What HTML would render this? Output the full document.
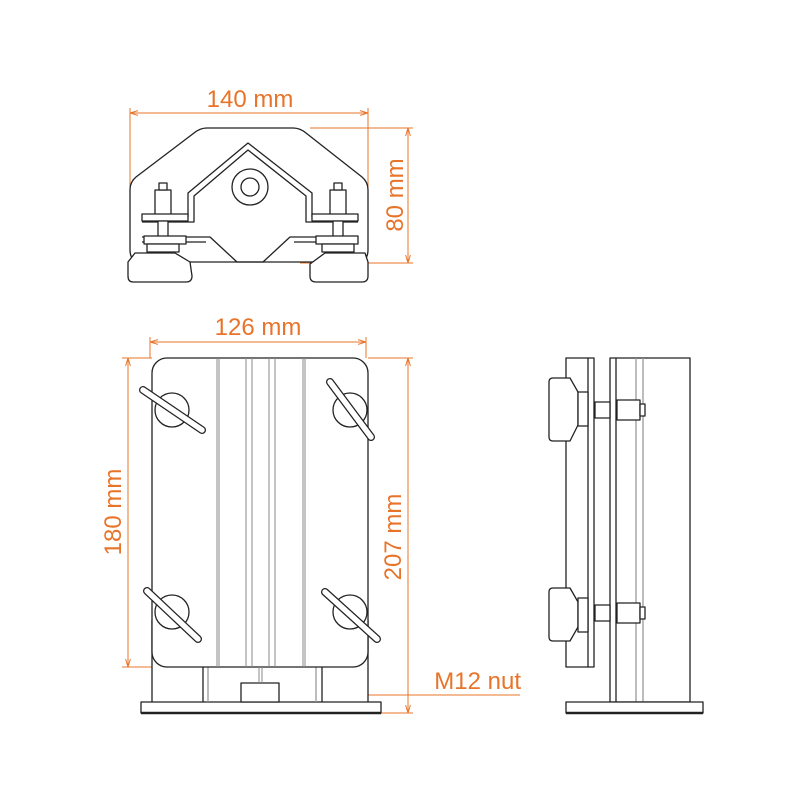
<!DOCTYPE html>
<html><head><meta charset="utf-8"><style>
html,body{margin:0;padding:0;background:#fff}
svg{display:block}
text{font-family:"Liberation Sans",sans-serif;fill:#e8742a;font-size:24px}
</style></head><body>
<svg width="800" height="800" viewBox="0 0 800 800" xmlns="http://www.w3.org/2000/svg">
<defs>
<marker id="a" viewBox="0 0 10 10" refX="10" refY="5" markerWidth="8" markerHeight="8" orient="auto-start-reverse"><path d="M0,2 L10,5 L0,8" fill="none" stroke="#e8742a" stroke-width="1.2"/></marker>
</defs>
<g stroke="#e8742a" stroke-width="1" fill="none">
<line x1="130" y1="113" x2="368" y2="113" marker-start="url(#a)" marker-end="url(#a)"/>
<line x1="130" y1="108" x2="130" y2="250"/><line x1="368" y1="108" x2="368" y2="215"/>
<line x1="408" y1="128" x2="408" y2="263" marker-start="url(#a)" marker-end="url(#a)"/>
<line x1="310" y1="128" x2="413" y2="128"/><line x1="300" y1="263" x2="413" y2="263"/>
<line x1="150" y1="342" x2="366" y2="342" marker-start="url(#a)" marker-end="url(#a)"/>
<line x1="150" y1="337" x2="150" y2="358"/><line x1="366" y1="337" x2="366" y2="358"/>
<line x1="128" y1="358" x2="128" y2="667" marker-start="url(#a)" marker-end="url(#a)"/>
<line x1="122" y1="358" x2="152" y2="358"/><line x1="122" y1="667" x2="152" y2="667"/>
<line x1="408" y1="358" x2="408" y2="713" marker-start="url(#a)" marker-end="url(#a)"/>
<line x1="368" y1="358" x2="413" y2="358"/><line x1="381" y1="713" x2="413" y2="713"/>
<line x1="264" y1="695" x2="520" y2="695"/>
</g>
<circle cx="264" cy="695" r="1.8" fill="#e8742a"/>
<text x="250" y="107" text-anchor="middle">140 mm</text>
<text x="258" y="335" text-anchor="middle">126 mm</text>
<text x="521" y="689" text-anchor="end">M12 nut</text>
<text transform="translate(403,195) rotate(-90)" text-anchor="middle">80 mm</text>
<text transform="translate(121,512) rotate(-90)" text-anchor="middle">180 mm</text>
<text transform="translate(401,537) rotate(-90)" text-anchor="middle">207 mm</text>

<g stroke="#222" stroke-width="1.3" fill="#fff" stroke-linejoin="round">
<path d="M207,128 L293,128 Q300,128 306,133 L362,177 Q368,182 368,190 L368,250 Q368,262 356,262 L142,262 Q130,262 130,250 L130,190 Q130,182 136,177 L194,133 Q200,128 207,128 Z"/>
<path d="M142,217 L188,217 L188,193 L248,143 L312,193 L312,217 L358,217" fill="none"/>
<path d="M142,222 L194,222 L194,196 L248,150 L306,196 L306,222 L358,222" fill="none"/>
<path d="M142,237 L210,237 L237,262 L263,262 L290,237 L358,237" fill="none"/>
<path d="M142,242 L206,242" fill="none"/><path d="M294,242 L358,242" fill="none"/>
<circle cx="250" cy="187" r="18"/><circle cx="250" cy="187" r="9"/>
<rect x="155" y="190" width="16" height="28"/><rect x="159" y="183" width="8" height="7"/>
<rect x="142" y="214" width="46" height="7"/><rect x="158" y="221" width="10" height="18"/>
<rect x="144" y="236" width="42" height="8"/>
<rect x="147" y="244" width="32" height="8"/>
<path d="M135,253 L175,253 L190,262 L192,276 Q192,282 186,282 L133,282 Q128,282 128,276 L128,262 Z"/>
<rect x="330" y="190" width="16" height="28"/><rect x="334" y="183" width="8" height="7"/>
<rect x="312" y="214" width="46" height="7"/><rect x="333" y="221" width="10" height="18"/>
<rect x="316" y="236" width="42" height="8"/>
<rect x="322" y="244" width="32" height="8"/>
<path d="M325,253 L365,253 L368,262 L368,276 Q368,282 362,282 L316,282 Q310,282 310,276 L310,264 Z"/>

<rect x="152" y="620" width="216" height="83"/>
<rect x="141" y="702" width="240" height="11"/>
<line x1="141" y1="713" x2="381" y2="713" stroke-width="2.5"/>
<line x1="203" y1="667" x2="203" y2="702"/><line x1="208" y1="667" x2="208" y2="702" stroke="#999"/>
<line x1="316" y1="667" x2="316" y2="702" stroke="#999"/><line x1="322" y1="667" x2="322" y2="702"/>
<rect x="241" y="683" width="38" height="19"/>
<rect x="152" y="358" width="216" height="309" rx="15"/>
<g stroke="#888" stroke-width="1">
<line x1="217" y1="358" x2="217" y2="667"/><line x1="219" y1="358" x2="219" y2="667"/>
<line x1="246" y1="358" x2="246" y2="667"/><line x1="252" y1="358" x2="252" y2="667"/>
<line x1="269" y1="358" x2="269" y2="667"/><line x1="275" y1="358" x2="275" y2="667"/>
<line x1="303" y1="358" x2="303" y2="667"/><line x1="305" y1="358" x2="305" y2="667"/>
<line x1="259" y1="667" x2="259" y2="683"/><line x1="262" y1="667" x2="262" y2="683"/>
</g>
<circle cx="172" cy="410" r="17"/>
<line x1="143" y1="390" x2="202" y2="430" stroke-width="8" stroke-linecap="round"/>
<line x1="143" y1="390" x2="202" y2="430" stroke="#fff" stroke-width="5.5" stroke-linecap="round"/>
<circle cx="350" cy="410" r="17"/>
<line x1="330" y1="382" x2="371" y2="437" stroke-width="8" stroke-linecap="round"/>
<line x1="330" y1="382" x2="371" y2="437" stroke="#fff" stroke-width="5.5" stroke-linecap="round"/>
<circle cx="172" cy="612" r="17"/>
<line x1="147" y1="591" x2="198" y2="639" stroke-width="8" stroke-linecap="round"/>
<line x1="147" y1="591" x2="198" y2="639" stroke="#fff" stroke-width="5.5" stroke-linecap="round"/>
<circle cx="350" cy="612" r="17"/>
<line x1="325" y1="592" x2="377" y2="639" stroke-width="8" stroke-linecap="round"/>
<line x1="325" y1="592" x2="377" y2="639" stroke="#fff" stroke-width="5.5" stroke-linecap="round"/>

<rect x="610" y="358" width="80" height="344"/>
<line x1="616" y1="358" x2="616" y2="702"/>
<line x1="636" y1="358" x2="636" y2="702" stroke="#999"/><line x1="643" y1="358" x2="643" y2="702" stroke="#999"/>
<rect x="566" y="702" width="137" height="11"/>
<line x1="566" y1="713" x2="703" y2="713" stroke-width="2.5"/>
<rect x="566" y="358" width="28" height="309"/>
<line x1="588" y1="358" x2="588" y2="667"/>
<rect x="595" y="402" width="15" height="16"/><rect x="617" y="400" width="23" height="20"/><rect x="640" y="404" width="5" height="12"/>
<rect x="595" y="605" width="15" height="16"/><rect x="617" y="603" width="23" height="20"/><rect x="640" y="607" width="5" height="12"/>
<path d="M553,378 L570,378 L578,392 L578,425 L570,441 L553,441 Q549,441 549,437 L549,382 Q549,378 553,378 Z"/>
<rect x="578" y="392" width="10" height="34"/>
<path d="M553,588 L570,588 L578,602 L578,627 L570,641 L553,641 Q549,641 549,637 L549,592 Q549,588 553,588 Z"/>
<rect x="578" y="598" width="10" height="34"/>
</g>
</svg>
</body></html>
